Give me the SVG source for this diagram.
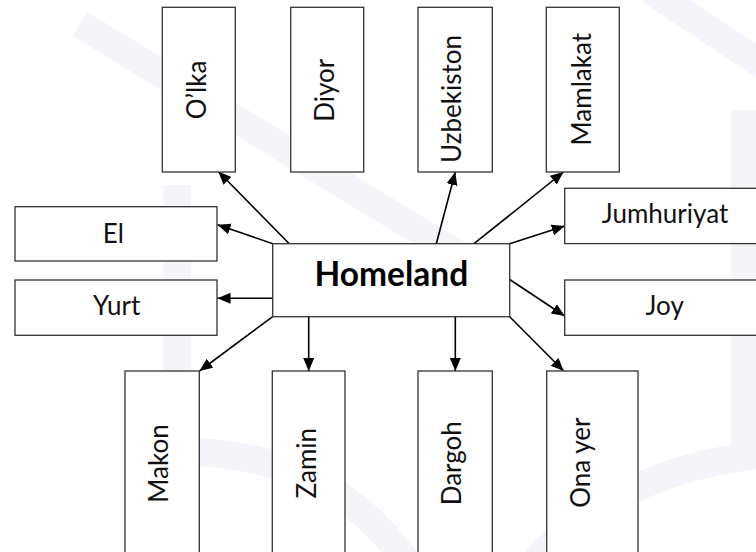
<svg xmlns="http://www.w3.org/2000/svg" width="756" height="552" viewBox="0 0 756 552">
<style>
.bg{fill:none;stroke:#f4f4f9;stroke-width:28;stroke-linecap:butt}
.box{fill:#ffffff;stroke:#333333;stroke-width:1.3}
.t{font-family:Lato,"Open Sans","Liberation Sans",sans-serif;font-size:26px;fill:#111111}
.tb{font-family:Lato,"Open Sans","Liberation Sans",sans-serif;font-size:33.5px;font-weight:bold;fill:#000000}
.c{fill:none;stroke:#000000;stroke-width:1.6}
</style>
<defs>
<marker id="ah" markerUnits="userSpaceOnUse" markerWidth="14" markerHeight="12" refX="13" refY="5.5" orient="auto">
<path d="M0,0 L13,5.5 L0,11 z" fill="#000000"/>
</marker>
</defs>
<rect width="756" height="552" fill="#ffffff"/>
<g id="watermark">
<path class="bg" d="M80,24 L470,262"/>
<path class="bg" d="M177,185 L177,440"/>
<path class="bg" d="M190,452 Q330,455 405,560"/>
<path class="bg" d="M535,560 Q620,470 760,455"/>
<path class="bg" d="M745,110 L745,450"/>
<path class="bg" d="M650,-10 L770,70"/>
</g>
<g id="connectors">
<line class="c" x1="289.3" y1="243.7" x2="218.3" y2="171.5" marker-end="url(#ah)"/>
<line class="c" x1="272.7" y1="243.7" x2="217.5" y2="224.7" marker-end="url(#ah)"/>
<line class="c" x1="436.3" y1="243.7" x2="455.3" y2="172" marker-end="url(#ah)"/>
<line class="c" x1="474" y1="243.7" x2="563.5" y2="172" marker-end="url(#ah)"/>
<line class="c" x1="509.7" y1="243.7" x2="564.7" y2="226" marker-end="url(#ah)"/>
<line class="c" x1="272.7" y1="298.3" x2="217.5" y2="298.3" marker-end="url(#ah)"/>
<line class="c" x1="509.7" y1="279.5" x2="564.7" y2="316" marker-end="url(#ah)"/>
<line class="c" x1="272.7" y1="316.7" x2="199.5" y2="371" marker-end="url(#ah)"/>
<line class="c" x1="308.7" y1="316.7" x2="308.7" y2="371" marker-end="url(#ah)"/>
<line class="c" x1="455.3" y1="316.7" x2="455.3" y2="371" marker-end="url(#ah)"/>
<line class="c" x1="509.7" y1="316.7" x2="563.7" y2="371" marker-end="url(#ah)"/>
</g>
<g id="olka"><rect class="box" x="162.3" y="7.3" width="73" height="164.7"/><text class="t" text-anchor="middle" transform="translate(205.8,90) rotate(-90)">O’lka</text></g>
<g id="diyor"><rect class="box" x="290.7" y="7.3" width="73" height="164.7"/><text class="t" text-anchor="middle" transform="translate(334,90.3) rotate(-90)">Diyor</text></g>
<g id="uzbekiston"><rect class="box" x="418" y="7.3" width="74.3" height="164.7"/><text class="t" text-anchor="middle" transform="translate(461,99) rotate(-90)">Uzbekiston</text></g>
<g id="mamlakat"><rect class="box" x="546.3" y="7.3" width="73" height="164.7"/><text class="t" text-anchor="middle" transform="translate(591,89.2) rotate(-90)">Mamlakat</text></g>
<g id="el"><rect class="box" x="15" y="206.7" width="202" height="54.3"/><text class="t" text-anchor="middle" x="113.3" y="243.3">El</text></g>
<g id="yurt"><rect class="box" x="15" y="280" width="202" height="55.3"/><text class="t" text-anchor="middle" x="116.7" y="315">Yurt</text></g>
<g id="homeland"><rect class="box" x="272.7" y="243.7" width="237" height="73"/><text class="tb" text-anchor="middle" x="391.3" y="285.7">Homeland</text></g>
<g id="jumhuriyat"><rect class="box" x="564.7" y="188.3" width="210" height="55.3"/><text class="t" text-anchor="middle" x="665" y="223.3">Jumhuriyat</text></g>
<g id="joy"><rect class="box" x="564.7" y="280" width="210" height="55.3"/><text class="t" text-anchor="middle" x="664.7" y="315">Joy</text></g>
<g id="makon"><rect class="box" x="125" y="371" width="74.3" height="200"/><text class="t" text-anchor="middle" transform="translate(168.3,463.5) rotate(-90)">Makon</text></g>
<g id="zamin"><rect class="box" x="272.3" y="371" width="72.7" height="200"/><text class="t" text-anchor="middle" transform="translate(315.6,463.2) rotate(-90)">Zamin</text></g>
<g id="dargoh"><rect class="box" x="418" y="371" width="74.3" height="200"/><text class="t" text-anchor="middle" transform="translate(461.3,463.2) rotate(-90)">Dargoh</text></g>
<g id="onayer"><rect class="box" x="546.7" y="371" width="91.3" height="200"/><text class="t" text-anchor="middle" transform="translate(589.7,462.7) rotate(-90)">Ona yer</text></g>
</svg>
